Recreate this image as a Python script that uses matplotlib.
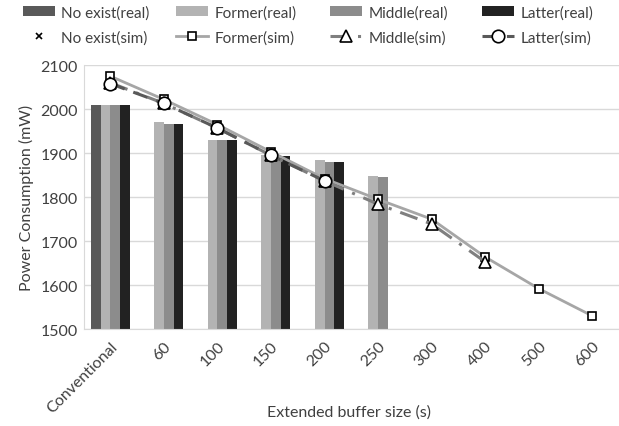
import numpy as np
import matplotlib
matplotlib.use("Agg")
import matplotlib.pyplot as plt

plt.rcParams['font.family'] = ['Lato', 'DejaVu Sans']

categories = ["Conventional", "60", "100", "150", "200", "250", "300", "400", "500", "600"]

# Measured power (bars); NaN where no measurement exists
no_exist_real = [2010, np.nan, np.nan, np.nan, np.nan, np.nan, np.nan, np.nan, np.nan, np.nan]
former_real   = [2010, 1970, 1930, 1895, 1884, 1848, np.nan, np.nan, np.nan, np.nan]
middle_real   = [2010, 1967, 1930, 1895, 1881, 1845, np.nan, np.nan, np.nan, np.nan]
latter_real   = [2010, 1967, 1929, 1893, 1879, np.nan, np.nan, np.nan, np.nan, np.nan]

# Simulated power (lines)
no_exist_sim = [2075, np.nan, np.nan, np.nan, np.nan, np.nan, np.nan, np.nan, np.nan, np.nan]
former_sim   = [2075, 2022, 1965, 1903, 1842, 1795, 1750, 1664, 1592, 1530]
middle_sim   = [2060, 2013, 1957, 1895, 1837, 1784, 1739, 1653, np.nan, np.nan]
latter_sim   = [2058, 2013, 1957, 1895, 1837, np.nan, np.nan, np.nan, np.nan, np.nan]

W, H = 619, 427
fig = plt.figure(figsize=(W / 100, H / 100), dpi=100)
ax = fig.add_axes([0.135, 0.227, 0.865, 0.618])

x = np.arange(len(categories))
bw = 0.18
bar_specs = [
    (no_exist_real, "#595959", "No exist(real)"),
    (former_real, "#b3b3b3", "Former(real)"),
    (middle_real, "#8c8c8c", "Middle(real)"),
    (latter_real, "#222222", "Latter(real)"),
]
bars = []
for i, (vals, col, lab) in enumerate(bar_specs):
    b = ax.bar(x + (i - 1.5) * bw, np.array(vals, dtype=float) - 1500, bw,
               bottom=1500, color=col, label=lab, zorder=2)
    bars.append(b)

l_no, = ax.plot(x, no_exist_sim, linestyle='none', marker='x', markersize=4,
                markeredgewidth=1.2, color='black', label="No exist(sim)", zorder=3)
l_f, = ax.plot(x, former_sim, color='#a6a6a6', lw=2, marker='s', markersize=6,
               markerfacecolor='white', markeredgecolor='black', markeredgewidth=1.2,
               label="Former(sim)", zorder=4)
l_m, = ax.plot(x, middle_sim, color='#7f7f7f', lw=2.2, dashes=(6, 3, 1, 3),
               marker='^', markersize=8, markerfacecolor='white',
               markeredgecolor='black', markeredgewidth=1.2,
               label="Middle(sim)", zorder=5)
l_l, = ax.plot(x, latter_sim, color='#595959', lw=2.2, dashes=(5, 3),
               marker='o', markersize=9, markerfacecolor='white',
               markeredgecolor='black', markeredgewidth=1.2,
               label="Latter(sim)", zorder=6)

ax.set_ylim(1500, 2100)
ax.set_xlim(-0.5, len(categories) - 0.5)
ax.set_yticks(np.arange(1500, 2101, 100))
ax.set_xticks(x)
ax.set_xticklabels(categories, rotation=45, ha='right', va='top',
                   rotation_mode='anchor', fontsize=11.5, color='#404040')
ax.tick_params(axis='y', labelsize=11.5, colors='#404040', length=0, pad=4)
ax.tick_params(axis='x', length=0, pad=7)
ax.grid(axis='y', color='#d9d9d9', lw=1, zorder=0)
ax.set_axisbelow(True)
for s in ['top', 'right']:
    ax.spines[s].set_visible(False)
ax.spines['left'].set_color('#d9d9d9')
ax.spines['bottom'].set_color('#d9d9d9')

ax.set_ylabel("Power Consumption (mW)", fontsize=11.5, color='#404040', labelpad=5)
fig.text(349 / W, 1 - 413 / H, "Extended buffer size (s)", fontsize=11.5,
         color='#404040', ha='center', va='center')

# One legend column per configuration: real bar on top, simulated line below
columns = [(bars[0], l_no), (bars[1], l_f), (bars[2], l_m), (bars[3], l_l)]
col_x = [23, 176, 330, 482]
for (hr, hs), cx in zip(columns, col_x):
    leg = fig.legend([hr, hs], [hr.get_label(), hs.get_label()], loc='upper left',
                     bbox_to_anchor=(cx / W, 1 - 6 / H), borderaxespad=0,
                     borderpad=0, frameon=False, fontsize=11, handlelength=2.1,
                     handletextpad=0.4, labelspacing=0.7, labelcolor='#404040')

fig.savefig("out.png", dpi=100)
